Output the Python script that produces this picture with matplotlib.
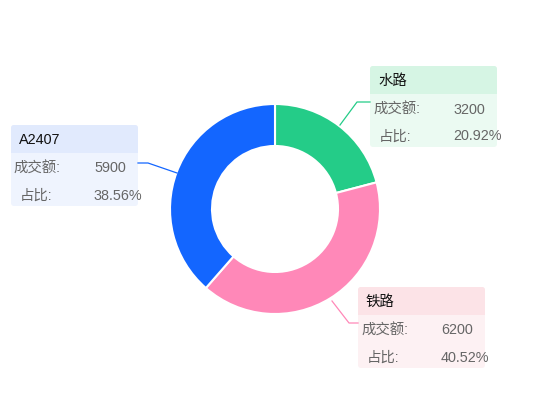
import matplotlib.pyplot as plt
from matplotlib.patches import FancyBboxPatch, Rectangle

plt.rcParams["font.family"] = ["Liberation Sans", "Noto Sans CJK SC", "DejaVu Sans"]

# データ (時計回り, 12時の位置から)
names = ["水路", "铁路", "A2407"]
values = [3200, 6200, 5900]
colors = ["#24CC88", "#FF88B8", "#1366FF"]
header_colors = ["#D6F5E4", "#FCE3E7", "#E1EAFD"]
body_colors = ["#EBFAF2", "#FDF1F3", "#EFF4FE"]
row_labels = ["成交额:", "占比:"]

W, H = 550, 420
total = sum(values)
percents = [v / total * 100 for v in values]

fig = plt.figure(figsize=(W / 100, H / 100), dpi=100)
ax = fig.add_axes([0, 0, 1, 1])


def py(y):
    # ピクセル座標 (上が0) → データ座標
    return H - y


cx, cy = 275, 209
r_out, r_in = 105, 63
ax.pie(
    values,
    colors=colors,
    startangle=90,
    counterclock=False,
    center=(cx, py(cy)),
    radius=r_out,
    wedgeprops=dict(width=r_out - r_in, edgecolor="white", linewidth=1.5),
)
ax.set_xlim(0, W)
ax.set_ylim(0, H)
ax.set_aspect("equal")
ax.axis("off")

# ラベルボックス (左, 上) とリーダー線
boxes = [(370, 66), (358, 287), (11, 125)]
leaders = [
    [(340, 125), (357, 102), (370, 102)],
    [(332, 301), (349, 323), (358, 323)],
    [(177, 173), (148, 163), (138, 163)],
]
bw, bh, hh = 127, 81, 28
fs = 10.4

for i, name in enumerate(names):
    lx, ty = boxes[i]
    pts = leaders[i]
    ax.plot([p[0] for p in pts], [py(p[1]) for p in pts], color=colors[i], lw=0.9)

    ax.add_patch(FancyBboxPatch((lx, py(ty + bh)), bw, bh,
                                boxstyle="round,pad=0,rounding_size=3",
                                fc=body_colors[i], ec="none"))
    ax.add_patch(FancyBboxPatch((lx, py(ty + hh)), bw, hh,
                                boxstyle="round,pad=0,rounding_size=3",
                                fc=header_colors[i], ec="none"))
    ax.add_patch(Rectangle((lx, py(ty + hh)), bw, 6, fc=header_colors[i], ec="none"))

    ax.text(lx + 8, py(ty + 15), name, fontsize=fs, color="#111111", va="center")
    ax.text(lx + 3, py(ty + 43.5), row_labels[0], fontsize=fs, color="#666666", va="center")
    ax.text(lx + 83, py(ty + 43.5), f"{values[i]}", fontsize=fs, color="#666666", va="center")
    ax.text(lx + 9, py(ty + 70.5), row_labels[1], fontsize=fs, color="#666666", va="center")
    ax.text(lx + 83, py(ty + 70.5), f"{percents[i]:.2f}%", fontsize=fs, color="#666666", va="center")

fig.savefig("out.png", dpi=100)
